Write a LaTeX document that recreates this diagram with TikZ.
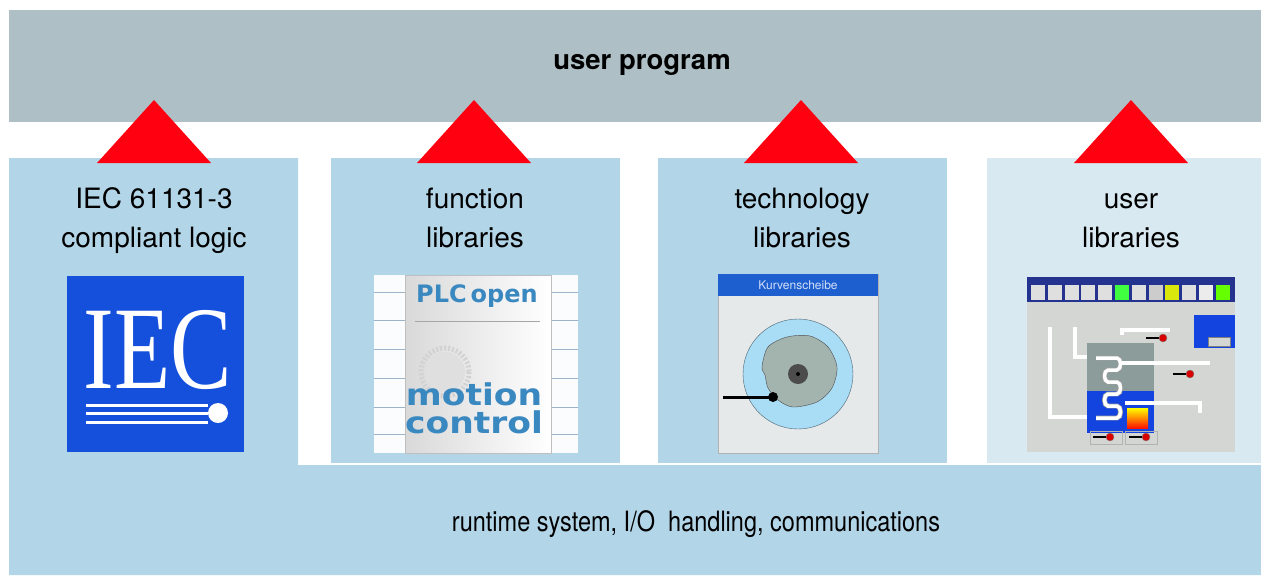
\documentclass[tikz,border=0pt]{standalone}
\usepackage{fontspec}
\setmainfont{TeX Gyre Heros}
\newfontfamily\logoserif{Liberation Serif}
\newfontfamily\plcfont{DejaVu Sans}
\usetikzlibrary{positioning, calc}
\definecolor{progbar}{HTML}{AFBFC6}
\definecolor{libblue}{HTML}{B3D5E8}
\definecolor{userblue}{HTML}{D9E9F1}
\definecolor{uparrow}{HTML}{FF0010}
\definecolor{iecblue}{HTML}{1450DC}
\definecolor{plcblue}{HTML}{3A88C0}
\definecolor{gridline}{HTML}{9DB3C9}
\definecolor{winblue}{HTML}{1E5FD0}
\definecolor{wingray}{HTML}{E6E9EA}
\definecolor{camsky}{HTML}{A9DCF5}
\definecolor{camgray}{HTML}{A3B3AE}
\definecolor{hmigray}{HTML}{D3D6D2}
\definecolor{hminavy}{HTML}{23338F}
\definecolor{tankblue}{HTML}{1444E0}
\definecolor{tankgray}{HTML}{8C9C9A}

\begin{document}
\begin{tikzpicture}[x=1pt, y=-1pt,
    layer/.style={rectangle, fill=#1, inner sep=0pt, outer sep=0pt, anchor=north west},
    caption/.style={font=\fontsize{28}{39}\selectfont, align=center, anchor=base},
    plctext/.style={font=\plcfont\bfseries\fontsize{30}{30}\selectfont, text=plcblue, inner sep=0pt, anchor=base},
    pipe/.style={draw=gray!75, line width=0.7pt, double=white, double distance=3.5pt},
    valve/.pic={\draw[line width=2pt] (-13,0) -- (0,0); \filldraw[fill=red!85!black, draw=black!50] (4,0) circle (4);}
]
\useasboundingbox (0,0) rectangle (1261,576);

% Layers
\node[layer=progbar, minimum width=1252pt, minimum height=112pt] (prog) at (9,10) {};
\fill[libblue] (9,158) -- (298,158) -- (298,465) -- (1261,465) -- (1261,575) -- (9,575) -- cycle;
\node[layer=libblue, minimum width=289pt, minimum height=305pt] (func) at (331,158) {};
\node[layer=libblue, minimum width=289pt, minimum height=305pt] (tech) at (658,158) {};
\node[layer=userblue, minimum width=274pt, minimum height=305pt] (user) at (987,158) {};

% Red triangles
\foreach \cx in {154,474,801,1131}
  \fill[uparrow] (\cx-57,163) -- (\cx,100) -- (\cx+57,163) -- cycle;

% Labels
\node[font=\fontsize{27.5}{33}\selectfont\bfseries, anchor=base] (progtext) at (642,69) {user program};
\node[caption] (ieclabel) at (154,247) {IEC 61131-3\\compliant logic};
\node[caption] (funclabel) at (475,247) {function\\libraries};
\node[caption] (techlabel) at (802,247) {technology\\libraries};
\node[caption] (userlabel) at (1131,247) {user\\libraries};
\node[caption] (runtime) at (696,531) {\scalebox{0.84}[1]{runtime system, I/O\ \ handling, communications}};

% IEC logo
\node[layer=iecblue, minimum width=177pt, minimum height=176pt] (ieclogo) at (67,276) {};
\node[text=white, font=\logoserif\fontsize{118}{118}\selectfont, anchor=base] (iectext) at (158,388) {\scalebox{0.78}[1]{IEC}};
\foreach \ly in {405,413,422}
  \draw[white, line width=3pt] (86,\ly) -- (208,\ly);
\fill[white] (218,413) circle (10);

% PLCopen picture
\node[layer=white!94!libblue, minimum width=204pt, minimum height=178pt] (plcopen) at (374,275) {};
\foreach \gy in {292,320,349,378,407,434}
  \draw[gridline] (374,\gy) -- (578,\gy);
\shade[left color=gray!30, right color=white, draw=gray!50] (405,275) rectangle (551,453);
\draw[gray!35, line width=5pt, dash pattern=on 2pt off 2pt] (445,372) circle (24);
\fill[gray!25] (445,372) circle (20);
\node[font=\plcfont\bfseries\fontsize{24}{24}\selectfont, text=plcblue, anchor=base] (plctitle) at (477,302) {PLC\,open};
\draw[gray!70] (415,321) -- (540,321);
\node[plctext] (motion) at (474,405) {\scalebox{1.15}[1]{motion}};
\node[plctext] (control) at (474,433) {\scalebox{1.15}[1]{control}};

% Cam window
\node[layer=wingray, draw=gray!60, minimum width=160pt, minimum height=179pt] (camwin) at (718,274) {};
\node[layer=winblue, minimum width=160pt, minimum height=22pt] (camtitle) at (718,274) {};
\node[text=white!80!winblue, font=\fontsize{12}{12}\selectfont] at (camtitle.center) {Kurvenscheibe};
\coordinate (cam) at (798,374);
\filldraw[fill=camsky, draw=camsky!45!black] (cam) circle (55);
\filldraw[fill=camgray, draw=black!70] plot[smooth cycle] coordinates {(762,367) (768,347) (787,337) (810,336) (828,347) (837,367) (832,388) (817,402) (793,407) (778,400) (768,388) (765,375)};
\fill[black!70] (cam) circle (10);
\fill[black] (cam) circle (2);
\draw[line width=3pt] (723,397) -- (773,397);
\fill (773,397) circle (5);

% HMI screen
\node[layer=hmigray, minimum width=208pt, minimum height=175pt] (hmi) at (1027,277) {};
\node[layer=hminavy, minimum width=208pt, minimum height=25pt] (toolbar) at (1027,277) {};
\foreach \i/\c in {0/gray!25,1/gray!25,2/gray!25,3/gray!25,4/gray!25,5/green!75,6/gray!25,7/gray!40,8/yellow!85!green,9/gray!25,10/gray!15,11/green!60!yellow}
  \fill[\c] (1031+\i*16.8,285) rectangle +(14,15);
\draw[pipe] (1050,327) -- (1050,417) -- (1100,417);
\draw[pipe] (1075,327) -- (1075,357) -- (1100,357);
\node[layer=tankgray, minimum width=67pt, minimum height=48pt] (tanktop) at (1087,343) {};
\node[layer=tankblue, minimum width=67pt, minimum height=42pt] (tankbottom) at (1087,391) {};
\draw[pipe] (1096,358) -- (1117,358) to[out=0,in=0] (1117,370) -- (1108,370) to[out=180,in=180] (1108,382) -- (1117,382) to[out=0,in=0] (1117,394) -- (1108,394) to[out=180,in=180] (1108,406) -- (1117,406) to[out=0,in=0] (1117,418) -- (1096,418);
\draw[pipe] (1122,363) -- (1210,363);
\draw[pipe] (1125,403) -- (1200,403) -- (1200,413);
\draw[pipe] (1122,335) -- (1122,330) -- (1170,330);
\shade[top color=yellow, bottom color=red!85!orange] (1127,408) rectangle (1148,428);
\fill[tankblue] (1194,315) rectangle (1235,348);
\filldraw[fill=hmigray, draw=gray] (1208,337) rectangle (1230,346);
\draw[gray!60] (1090,431) rectangle (1122,444) (1125,431) rectangle (1157,444);
\pic at (1159,338) {valve};
\pic at (1186,374) {valve};
\pic at (1106,437) {valve};
\pic at (1142,437) {valve};

\end{tikzpicture}
\end{document}
